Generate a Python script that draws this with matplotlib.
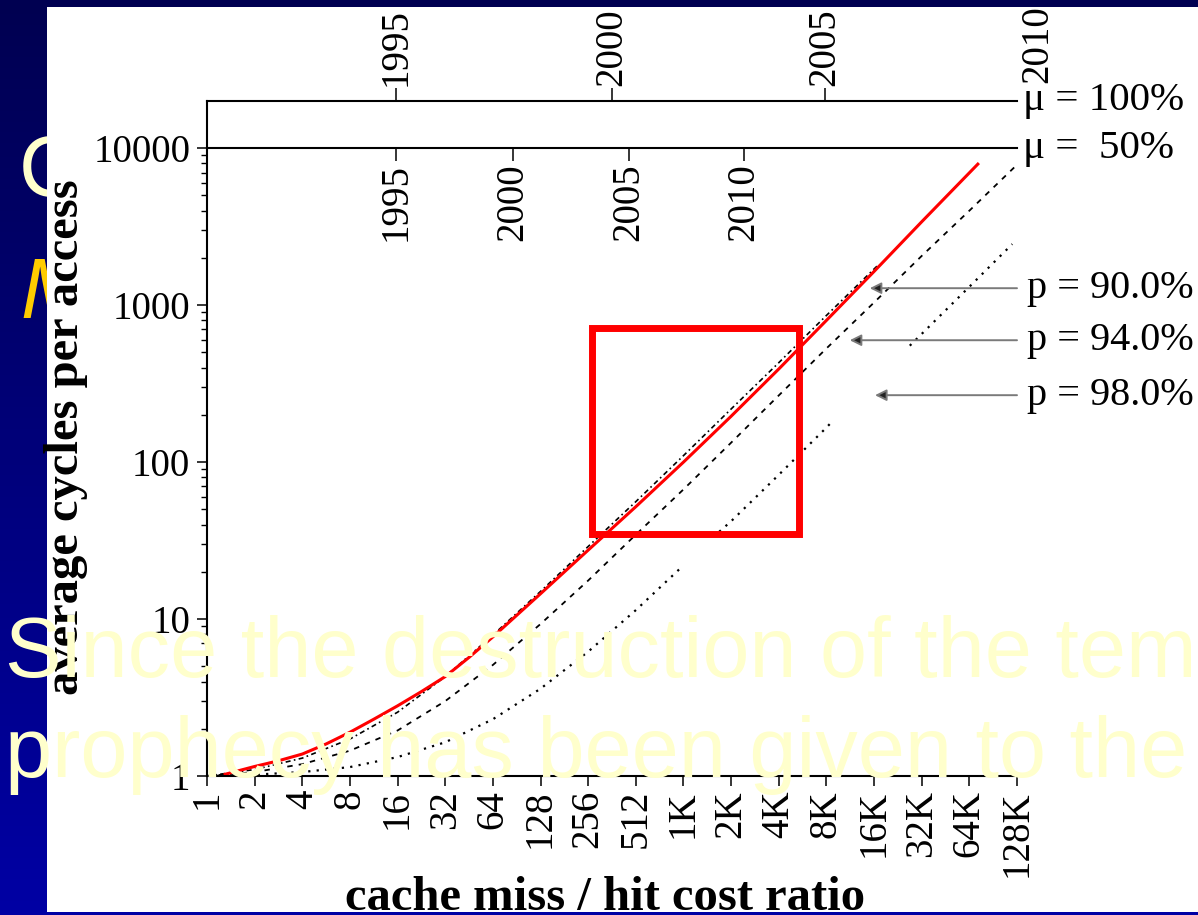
import numpy as np
import matplotlib
matplotlib.use("Agg")
import matplotlib.pyplot as plt
from matplotlib.colors import LinearSegmentedColormap
from matplotlib.patches import Rectangle
from matplotlib.ticker import FixedLocator, NullFormatter
import matplotlib.transforms as mtransforms

plt.rcParams["font.family"] = ["Liberation Serif", "DejaVu Serif"]

W, H = 1198, 915
nan = np.nan

# x axis runs in log2(miss/hit cost ratio): 0 -> 1, 17 -> 128K
ratio_pos = list(range(18))
ratio_labels = ["1", "2", "4", "8", "16", "32", "64", "128", "256", "512",
                "1K", "2K", "4K", "8K", "16K", "32K", "64K", "128K"]
y_major = [1, 10, 100, 1000, 10000]
y_major_labels = ["1", "10", "100", "1000", "10000"]
y_max = 20000

# year scales along the two memory-latency growth lines
years = ["1995", "2000", "2005", "2010"]
years_mu100 = [3.97, 8.50, 12.97, 17.47]
years_mu50 = [3.97, 6.42, 8.85, 11.27]
mu_levels = [20000, 10000]
mu_labels = ["μ = 100%", "μ =  50%"]

# average cycles per access vs. log2(cost ratio)
red_x = [0.35, 1, 1.5, 2, 2.5, 3, 3.5, 4, 4.5, 5, 5.5, 6, 7, 8, 9, 10, 11,
         12, 13, 14, 15, 16.2]
red_y = [1.02, 1.15, 1.25, 1.38, 1.6, 1.9, 2.3, 2.8, 3.45, 4.3, 5.7, 7.7,
         14.5, 27.5, 52, 100, 196, 392, 800, 1640, 3400, 8050]

p90_x = [0, 1, 2, 3, 4, 5, 6, 7, 8, 9, 10, 11, 12, 13, 14, 14.1]
p90_y = [1.0, 1.1, 1.3, 1.72, 2.55, 4.3, 7.9, 15.0, 29, 56, 110, 218, 430,
         860, 1700, 1820]

p94_x = list(range(18))
p94_y = [1.0, 1.06, 1.19, 1.45, 1.95, 3.0, 5.1, 9.3, 17.6, 34.5, 67, 133,
         266, 530, 1040, 2060, 4000, 7850]

p98_x = [0, 1, 2, 3, 4, 5, 6, 7, 8, 9, 9.93, nan,
         10.75, 11, 12, 13, 13.14, nan,
         14.75, 15, 16, 16.9]
p98_y = [1.0, 1.02, 1.06, 1.14, 1.32, 1.64, 2.3, 3.6, 6.2, 11.4, 21.0, nan,
         36, 42, 83, 166, 184, nan,
         552, 656, 1310, 2450]

hit_labels = ["p = 90.0%", "p = 94.0%", "p = 98.0%"]
hit_label_y = [1283, 598, 267]
hit_arrow_tip = [13.91, 13.49, 14.02]

# highlighted region
box_x = [8.07, 12.43]
box_y = [34.8, 719]

slide_lines = ["Since the destruction of the tem", "prophecy has been given to the"]

fig = plt.figure(figsize=(W / 100, H / 100), dpi=100)

# slide background
bg = fig.add_axes([0, 0, 1, 1], zorder=-10)
cmap = LinearSegmentedColormap.from_list("slide", ["#000051", "#0000a4"])
bg.imshow(np.linspace(0, 1, 256).reshape(-1, 1), cmap=cmap, aspect="auto",
          extent=[0, 1, 0, 1])
bg.axis("off")

# bits of the slide text sitting behind the pasted chart
fig.text(19 / W, 1 - 196 / H, "C", fontsize=61, color="#FFFFCC",
         family="Liberation Sans", va="baseline", zorder=-5)
fig.text(20 / W, 1 - 318 / H, "M", fontsize=61, color="#FFCC00",
         family="Liberation Sans", style="italic", va="baseline", zorder=-5)

# pasted chart
fig.add_artist(Rectangle((47 / W, 3 / H), 1151 / W, 905 / H,
                         transform=fig.transFigure, facecolor="white",
                         edgecolor="none", zorder=-2))

ax = fig.add_axes([207 / W, 1 - 776 / H, 810 / W, 675 / H], facecolor="none")
ax.set_yscale("log")
ax.set_xlim(0, 17)
ax.set_ylim(1, y_max)

ax.plot(p90_x, p90_y, color="black", lw=1.2, ls=(0, (3, 2, 1, 2)))
ax.plot(p94_x, p94_y, color="black", lw=1.3, ls=(0, (3, 3.4)))
ax.plot(p98_x, p98_y, color="black", lw=1.6, ls=(0, (1, 2.8)))
ax.plot(red_x, red_y, color="#ff0000", lw=2.2, solid_capstyle="butt")

ax.add_patch(Rectangle((box_x[0], box_y[0]), box_x[1] - box_x[0],
                       box_y[1] - box_y[0], fill=False, edgecolor="#ff0000",
                       lw=5.0, joinstyle="miter", clip_on=False, zorder=4))

for lab, yv, tip in zip(hit_labels, hit_label_y, hit_arrow_tip):
    ax.annotate("", xy=(tip, yv), xytext=(17, yv), annotation_clip=False,
                arrowprops=dict(arrowstyle="-|>", facecolor="#222222",
                                edgecolor="#7a7a7a", lw=1.4,
                                mutation_scale=17, shrinkA=0, shrinkB=0))
    ax.annotate(lab, xy=(17, yv), xytext=(7, 0), textcoords="offset points",
                ha="left", va="center", fontsize=29, annotation_clip=False)

for lab, yv in zip(mu_labels, mu_levels):
    ax.annotate(lab, xy=(17, yv), xytext=(4, 0), textcoords="offset points",
                ha="left", va="center", fontsize=29.5, annotation_clip=False)

ax.set_xticks(ratio_pos, ratio_labels, rotation=90)
ax.set_yticks(y_major, y_major_labels)
ax.yaxis.set_minor_locator(FixedLocator(
    [m * 10 ** e for e in range(4) for m in range(2, 10)]))
ax.yaxis.set_minor_formatter(NullFormatter())
ax.tick_params(axis="x", direction="out", length=7, width=1.1, pad=3,
               labelsize=28)
ax.tick_params(axis="y", which="major", direction="out", length=7, width=1.1,
               pad=5, labelsize=28)
ax.tick_params(axis="y", which="minor", direction="out", length=4, width=1.0)
for s in ("top", "right"):
    ax.spines[s].set_visible(False)
for s in ("left", "bottom"):
    ax.spines[s].set_linewidth(1.5)

# mu = 100% year scale on top
top = ax.secondary_xaxis("top")
top.set_xticks(years_mu100[:3], years[:3])
top.tick_params(direction="out", length=9.5, width=1.1, pad=1.5,
                labelsize=28, labelrotation=90)
top.spines["top"].set_linewidth(1.5)
# the last year falls just past the end of the scale
ax.annotate(years[3], xy=(years_mu100[3], 1),
            xycoords=mtransforms.blended_transform_factory(ax.transData, ax.transAxes),
            xytext=(-1, 13), textcoords="offset points", rotation=90,
            ha="center", va="bottom", fontsize=28, annotation_clip=False)

# mu = 50% year scale at the 10000 level
mid = ax.secondary_xaxis(mu_levels[1], transform=ax.transData)
mid.set_alignment("bottom")
mid.set_xticks(years_mu50, years)
mid.tick_params(direction="out", length=9.5, width=1.1, pad=1.5,
                labelsize=28, labelrotation=90)
mid.spines["bottom"].set_linewidth(1.5)

fig.text(605 / W, 1 - 910 / H, "cache miss / hit cost ratio", fontsize=35,
         fontweight="bold", ha="center", va="baseline")
fig.text(78 / W, 1 - 437 / H, "average cycles per access", fontsize=35,
         fontweight="bold", rotation=90, rotation_mode="anchor",
         ha="center", va="baseline")

# slide frame edges over the chart
fig.add_artist(Rectangle((0, 1 - 7 / H), 1, 7 / H, transform=fig.transFigure,
                         facecolor="#000051", edgecolor="none", zorder=5))
fig.add_artist(Rectangle((0, 0), 1, 3 / H, transform=fig.transFigure,
                         facecolor="#0000a4", edgecolor="none", zorder=5))

# slide body text
for i, line in enumerate(slide_lines):
    fig.text(5 / W, 1 - (677 + 100 * i) / H, line, fontsize=61,
             color="#FFFFCC", family="Liberation Sans", va="baseline",
             zorder=10)

fig.savefig("out.png", dpi=100)
